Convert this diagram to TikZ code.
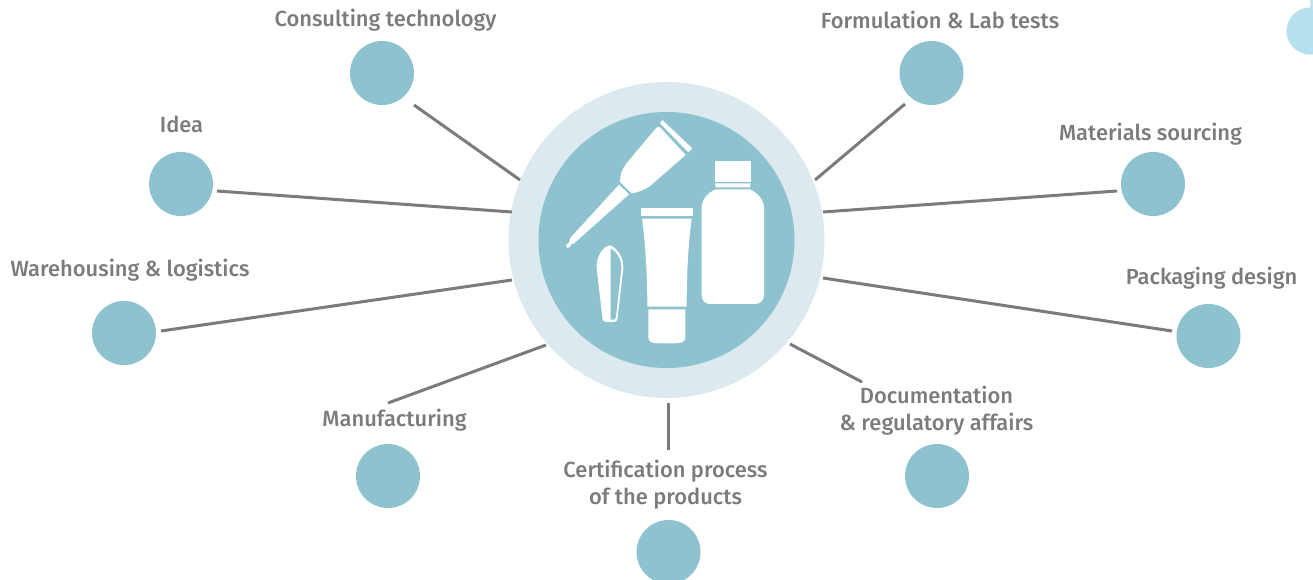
\documentclass[tikz,border=0pt]{standalone}
\usepackage{fontspec}
\setmainfont{Fira Sans Medium}
\definecolor{teal1}{HTML}{8DC2CE}
\definecolor{pale1}{HTML}{DCEAEF}
\definecolor{gray1}{HTML}{7B7B7B}
\definecolor{sky1}{HTML}{B7E0ED}
\tikzset{
 dot/.style={circle,fill=teal1,minimum size=64pt,inner sep=0pt,draw=none},
 lab/.style={text=gray1,font=\fontsize{21.9}{27}\selectfont,align=center,inner sep=0pt},
 spoke/.style={draw=gray1,line width=3pt},
 icon/.style={fill=white,draw=none}
}
\begin{document}
\begin{tikzpicture}[x=1pt,y=-1pt]
\useasboundingbox (0,0) rectangle (1313,580);
\clip (0,0) rectangle (1313,580);
\fill[sky1] (1310,31) circle (23.5pt);
\fill[sky1!85!white] (1310,0) rectangle (1313,10);
\node[circle,fill=pale1,minimum size=316pt,inner sep=0pt] (hubouter) at (666.5,240) {};
\node[circle,fill=teal1,minimum size=256pt,inner sep=0pt] (hub) at (666.5,240) {};
\node[dot] (c1) at (382,73) {};
\node[dot] (c2) at (931.5,73) {};
\node[dot] (c3) at (181,184) {};
\node[dot] (c4) at (1153,184) {};
\node[dot] (c5) at (124,333) {};
\node[dot] (c6) at (1208.5,336) {};
\node[dot] (c7) at (388,476) {};
\node[dot] (c8) at (937,476) {};
\node[dot] (c9) at (668.5,552) {};
\node[lab] (l1) at (385.5,20) {Consulting technology};
\node[lab] (l2) at (940,20) {Formulation \& Lab tests};
\node[lab] (l3) at (181.5,124) {Idea};
\node[lab] (l4) at (1150.5,134) {Materials sourcing};
\node[lab] (l5) at (130,270) {Warehousing \& logistics};
\node[lab] (l6) at (1211.5,278) {Packaging design};
\node[lab] (l7) at (394.5,420) {Manufacturing};
\node[lab] (l8) at (936.5,410.5) {Documentation\\\& regulatory affairs};
\node[lab] (l9) at (665.5,484.5) {Certification process\\of the products};
\coordinate (a1) at (414,105); \coordinate (b1) at (520,180);
\coordinate (a2) at (905,104); \coordinate (b2) at (815,180);
\coordinate (a3) at (217,191); \coordinate (b3) at (512,212);
\coordinate (a4) at (1117,191); \coordinate (b4) at (823,212);
\coordinate (a5) at (161,331); \coordinate (b5) at (512,280);
\coordinate (a6) at (1172,331); \coordinate (b6) at (823,278);
\coordinate (a7) at (388,403); \coordinate (b7) at (546,345);
\coordinate (a8) at (862,382); \coordinate (b8) at (790,344);
\coordinate (a9) at (668,450); \coordinate (b9) at (668,403);
\foreach \i in {1,...,9}{\draw[spoke] (a\i) -- (b\i);}
\begin{scope}[x=0.33333pt,y=-0.33333pt,shift={(1620,300)}]
% diagonal tube
\fill[icon] (367,60) -- (457,145) -- (445,157) -- (360,70) -- cycle;
\fill[icon] (358,80) -- (437,165) -- (330,258) .. controls (310,272) and (290,278) .. (275,280) -- (240,246) .. controls (240,225) and (245,210) .. (258,192) -- (345,88) .. controls (349,83) and (353,80) .. (358,80) -- cycle;
\fill[icon] (237,254) -- (267,283) -- (100,432) -- (94,432) -- (90,441) -- (82,444) -- (78,436) -- (88,426) -- (90,415) -- cycle;
% bottle
\fill[icon] (525,182) -- (632,182) -- (632,245) -- (525,245) -- cycle;
\fill[icon] (525,250) -- (632,250) -- (630,262) -- (527,262) -- cycle;
\fill[icon] (527,268) -- (630,268) .. controls (655,280) and (672,300) .. (672,325) -- (672,585) .. controls (672,602) and (660,612) .. (645,612) -- (510,612) .. controls (495,612) and (485,602) .. (485,585) -- (485,325) .. controls (485,300) and (500,280) .. (527,268) -- cycle;
% straight tube
\fill[icon] (303,324) -- (458,324) -- (458,349) -- (303,349) -- cycle;
\fill[icon] (306,356) -- (455,356) .. controls (445,430) and (440,520) .. (440,620) -- (322,620) .. controls (322,520) and (316,430) .. (306,356) -- cycle;
\fill[icon] (325,628) -- (436,628) -- (436,712) .. controls (436,725) and (425,730) .. (405,730) -- (355,730) .. controls (335,730) and (325,725) .. (325,712) -- cycle;
% applicator
\fill[icon] (210,436) .. controls (232,445) and (250,470) .. (250,505) -- (233,652) .. controls (232,662) and (228,666) .. (222,666) -- (198,666) .. controls (192,666) and (188,662) .. (187,652) -- (170,505) .. controls (168,470) and (188,440) .. (210,436) -- cycle;
\fill[teal1] (212,446) .. controls (230,455) and (244,475) .. (244,503) -- (228,650) .. controls (227,657) and (224,659) .. (220,659) -- (212,659) -- cycle;
\end{scope}
\end{tikzpicture}
\end{document}
